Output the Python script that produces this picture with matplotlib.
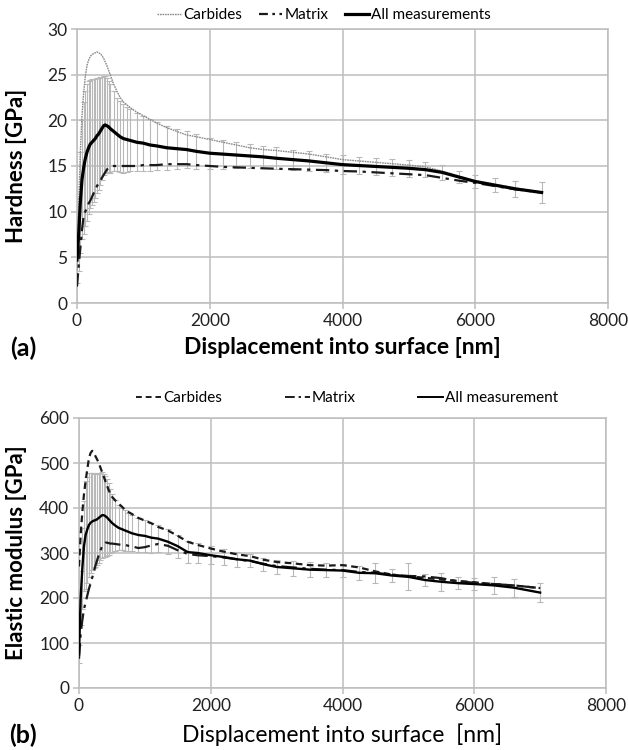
import matplotlib
matplotlib.use("Agg")
import matplotlib.pyplot as plt
from matplotlib.lines import Line2D

plt.rcParams['font.family'] = ['Lato', 'DejaVu Sans']

# ---------------- data ----------------
depth = [0, 25, 50, 75, 100, 125, 150, 175, 200, 225, 250, 275, 300, 325, 350, 375,
         400, 425, 450, 475, 500, 550, 600, 650, 700, 750, 800,
         900, 1000, 1100, 1200, 1350, 1500, 1650, 1800, 2000, 2200, 2400, 2600, 2800,
         3000, 3250, 3500, 3750, 4000, 4250, 4500, 4750, 5000, 5250, 5500, 5750, 6000,
         6300, 6600, 7000]

# (a) hardness [GPa]
h_carbides = [3.6, 10.5, 16.5, 20.5, 23.0, 24.8, 26.0, 26.6, 27.0, 27.2, 27.3, 27.4,
              27.5, 27.4, 27.3, 27.1, 26.8, 26.4, 26.0, 25.5, 25.0, 24.0, 23.2, 22.5,
              22.0, 21.7, 21.4,
              20.9, 20.5, 20.1, 19.7, 19.2, 18.8, 18.4, 18.2, 17.9, 17.6,
              17.3, 17.0, 16.8, 16.7, 16.5, 16.3, 16.0, 15.7, 15.55, 15.4, 15.25, 15.1,
              14.9, 14.45, 13.9, 13.4, 13.0, 12.6, 12.1]
h_matrix = [1.8, 4.0, 6.0, 8.0, 9.5, 10.0, 10.5, 10.9, 11.2, 11.6, 12.0, 12.4,
            12.8, 13.1, 13.4, 13.7, 14.0, 14.3, 14.6, 14.8, 14.9, 15.0, 15.0, 15.0,
            15.0, 15.0, 15.0,
            15.0, 15.1, 15.1, 15.1, 15.2, 15.2, 15.2, 15.1, 15.0, 14.9,
            14.85, 14.8, 14.75, 14.7, 14.65, 14.6, 14.55, 14.45, 14.4, 14.3, 14.2, 14.1,
            14.0, 13.7, 13.4, 13.15, 12.8, 12.45, 12.1]
h_all = [4.7, 7.5, 11.0, 13.5, 14.8, 15.8, 16.5, 17.0, 17.4, 17.6, 17.8, 18.0,
         18.3, 18.5, 18.8, 19.1, 19.4, 19.5, 19.4, 19.3, 19.1, 18.8, 18.5, 18.2,
         18.0, 17.9, 17.8,
         17.6, 17.5, 17.3, 17.2, 17.0, 16.9, 16.8, 16.6, 16.4, 16.3,
         16.2, 16.1, 16.0, 15.85, 15.7, 15.55, 15.35, 15.15, 15.05, 14.95, 14.85, 14.75,
         14.6, 14.3, 13.8, 13.3, 12.9, 12.5, 12.1]
h_all_sd = [2.5, 4.0, 5.5, 6.5, 7.2, 7.4, 7.5, 7.3, 7.0, 6.9, 6.7, 6.5,
            6.3, 6.1, 5.9, 5.6, 5.4, 5.3, 5.2, 5.0, 4.9, 4.4, 4.0, 3.9,
            3.8, 3.6, 3.4,
            3.2, 3.0, 2.8, 2.6, 2.4, 2.2, 2.0, 1.9, 1.7, 1.6,
            1.4, 1.3, 1.2, 1.2, 1.1, 1.1, 1.0, 1.0, 0.9, 0.9, 0.9, 0.9,
            0.8, 0.8, 0.7, 0.7, 0.8, 0.9, 1.1]

# (b) elastic modulus [GPa]
e_carbides = [270, 340, 390, 430, 460, 485, 510, 522, 527, 522, 515, 508,
              500, 490, 480, 470, 460, 450, 440, 432, 425, 417, 410, 403,
              396, 391, 387,
              378, 372, 366, 358, 350, 338, 325, 318, 310, 303,
              297, 293, 285, 280, 277, 273, 272, 273, 268, 259, 252, 248,
              245, 241, 238, 235, 231, 228, 222]
e_matrix = [65, 120, 150, 175, 190, 205, 220, 232, 245, 258, 272, 284,
            295, 305, 315, 320, 323, 323, 322, 321, 321, 320, 319, 318,
            318, 316, 315,
            311, 313, 317, 320, 316, 306, 298, 295, 293, 290,
            286, 282, 276, 271, 268, 265, 263, 262, 258, 256, 252, 249,
            248, 244, 237, 234, 231, 228, 222]
e_all = [75, 200, 265, 315, 340, 352, 362, 367, 370, 372, 373, 375,
         378, 381, 384, 384, 382, 379, 375, 371, 367, 361, 356, 353,
         350, 347, 344,
         340, 338, 334, 332, 325, 315, 302, 300, 295, 291,
         286, 283, 275, 269, 266, 263, 262, 261, 256, 255, 250, 247,
         240, 236, 233, 231, 228, 223, 212]
e_all_sd = [20, 60, 90, 100, 120, 118, 115, 111, 108, 105, 103, 101,
            100, 97, 95, 92, 90, 85, 80, 72, 65, 57, 50, 47,
            45, 42, 40,
            38, 36, 33, 30, 28, 26, 24, 22, 20, 18,
            16, 15, 15, 15, 16, 16, 15, 14, 16, 22, 14, 30,
            14, 20, 14, 13, 18, 20, 21]

legend_a = ["Carbides", "Matrix", "All measurements"]
legend_b = ["Carbides", "Matrix", "All measurement"]

# ---------------- figure ----------------
W, H = 628, 750
fig = plt.figure(figsize=(W / 100, H / 100), dpi=100)

grid_c = '#bdbdbd'
err_c = '#b8b8b8'


def style_axes(ax, ylim, yticks):
    ax.set_xlim(0, 8000)
    ax.set_ylim(*ylim)
    ax.set_xticks([0, 2000, 4000, 6000, 8000])
    ax.set_yticks(yticks)
    ax.grid(True, color=grid_c, linewidth=1.1)
    ax.set_axisbelow(True)
    for s in ax.spines.values():
        s.set_color(grid_c)
        s.set_linewidth(1.1)
    ax.tick_params(axis='both', colors=grid_c, length=4, width=1.1, labelsize=12.5,
                   labelcolor='#222222', pad=3)


def px_axes(l, t, r, b):
    return [l / W, 1 - b / H, (r - l) / W, (b - t) / H]


# ---------- panel (a) ----------
axa = fig.add_axes(px_axes(77, 29, 608, 303))
style_axes(axa, (0, 30), [0, 5, 10, 15, 20, 25, 30])
axa.errorbar(depth, h_all, yerr=h_all_sd, fmt='none', ecolor=err_c, elinewidth=0.8,
             capsize=2, capthick=0.8, zorder=2)
axa.plot(depth, h_carbides, color='#8a8a8a', lw=1.0, ls=(0, (1.2, 0.6)), zorder=3)
axa.plot(depth, h_matrix, color='#1a1a1a', lw=1.6, ls=(0, (6, 2.5, 1.5, 2.5)), zorder=3)
axa.plot(depth, h_all, color='black', lw=2.3, zorder=4)
axa.set_xlabel("Displacement into surface [nm]", fontsize=16.5, fontweight='bold')
axa.xaxis.set_label_coords(0.5, (303 - 348) / 274)
axa.xaxis.label.set_va('center')
axa.set_ylabel("Hardness [GPa]", fontsize=16, fontweight='bold')
axa.yaxis.set_label_coords((17 - 77) / 531, 0.5)
axa.yaxis.label.set_va('center')
fig.text(23 / W, 1 - 348 / H, "(a)", fontsize=18, fontweight='bold', ha='center', va='center')

ha = [Line2D([], [], color='#8a8a8a', lw=1.0, ls=(0, (1.2, 0.6))),
      Line2D([], [], color='#1a1a1a', lw=1.6, ls=(0, (4, 2, 1.2, 2))),
      Line2D([], [], color='black', lw=2.3)]
fig.legend(ha, legend_a, loc='center', bbox_to_anchor=(324 / W, 1 - 15 / H), ncol=3,
           frameon=False, fontsize=11, handlelength=1.55, handletextpad=0.15,
           columnspacing=1.1, borderaxespad=0, borderpad=0)

# ---------- panel (b) ----------
axb = fig.add_axes(px_axes(79, 418, 606, 688))
style_axes(axb, (0, 600), [0, 100, 200, 300, 400, 500, 600])
axb.errorbar(depth, e_all, yerr=e_all_sd, fmt='none', ecolor=err_c, elinewidth=0.8,
             capsize=2, capthick=0.8, zorder=2)
axb.plot(depth, e_carbides, color='#1a1a1a', lw=1.6, ls=(0, (3, 2)), zorder=3)
axb.plot(depth, e_matrix, color='#1a1a1a', lw=1.6, ls=(0, (7, 2.5, 1.5, 2.5)), zorder=3)
axb.plot(depth, e_all, color='black', lw=1.7, zorder=4)
axb.set_xlabel("Displacement into surface  [nm]", fontsize=16.5)
axb.xaxis.set_label_coords(0.5, (688 - 735) / 270)
axb.xaxis.label.set_va('center')
axb.set_ylabel("Elastic modulus [GPa]", fontsize=16, fontweight='bold')
axb.yaxis.set_label_coords((17 - 79) / 527, 0.5)
axb.yaxis.label.set_va('center')
fig.text(23 / W, 1 - 735 / H, "(b)", fontsize=18, fontweight='bold', ha='center', va='center')

hb = [Line2D([], [], color='#1a1a1a', lw=1.4, ls=(0, (3, 2))),
      Line2D([], [], color='#1a1a1a', lw=1.4, ls=(0, (5, 2, 1.2, 2))),
      Line2D([], [], color='black', lw=1.4)]
fig.legend(hb, legend_b, loc='center', bbox_to_anchor=(347 / W, 1 - 398 / H), ncol=3,
           frameon=False, fontsize=11, handlelength=1.65, handletextpad=0.1,
           columnspacing=4.1, borderaxespad=0, borderpad=0)

fig.savefig("out.png", dpi=100)
